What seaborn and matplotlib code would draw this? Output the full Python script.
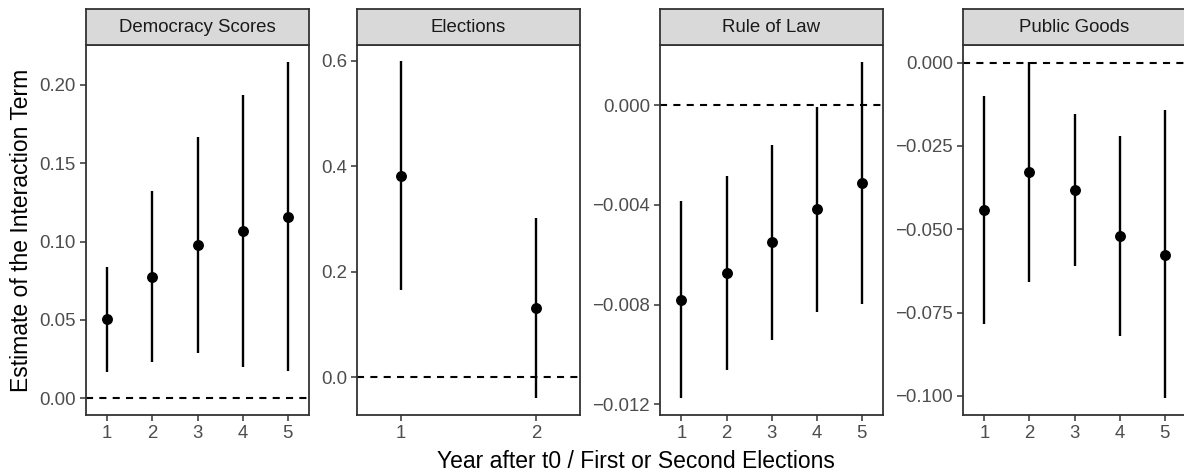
import matplotlib
matplotlib.use("Agg")
import matplotlib.pyplot as plt
import seaborn as sns
import pandas as pd
from matplotlib.ticker import FixedLocator, FuncFormatter

sns.set_theme(style="white")
plt.rcParams['font.family'] = ['Liberation Sans', 'DejaVu Sans']

# ---- data ----
panels = ["Democracy Scores", "Elections", "Rule of Law", "Public Goods"]

demo_x = [1, 2, 3, 4, 5]
demo_est = [0.0504, 0.0774, 0.0977, 0.1068, 0.1160]
demo_lo = [0.0170, 0.0230, 0.0287, 0.0198, 0.0174]
demo_hi = [0.0840, 0.1320, 0.1670, 0.1936, 0.2149]

elec_x = [1, 2]
elec_est = [0.382, 0.131]
elec_lo = [0.1656, -0.040]
elec_hi = [0.599, 0.3016]

rol_x = [1, 2, 3, 4, 5]
rol_est = [-0.00780, -0.00672, -0.00550, -0.00417, -0.00311]
rol_lo = [-0.01176, -0.01062, -0.00942, -0.00831, -0.00797]
rol_hi = [-0.00383, -0.00283, -0.00159, -0.00006, 0.00175]

pg_x = [1, 2, 3, 4, 5]
pg_est = [-0.0442, -0.0328, -0.0382, -0.0519, -0.0576]
pg_lo = [-0.0785, -0.0657, -0.0610, -0.0820, -0.1007]
pg_hi = [-0.0099, 0.0002, -0.0154, -0.0219, -0.0142]

y_ticks = [
    [0.00, 0.05, 0.10, 0.15, 0.20],
    [0.0, 0.2, 0.4, 0.6],
    [-0.012, -0.008, -0.004, 0.000],
    [-0.100, -0.075, -0.050, -0.025, 0.000],
]
y_decimals = [2, 1, 3, 3]
y_limits = [(-0.0107, 0.2255), (-0.0715, 0.630), (-0.01243, 0.00242), (-0.1057, 0.0053)]
x_limits = [(0.53, 5.47), (0.675, 2.325), (0.525, 5.47), (0.528, 5.47)]

series = [
    (demo_x, demo_est, demo_lo, demo_hi),
    (elec_x, elec_est, elec_lo, elec_hi),
    (rol_x, rol_est, rol_lo, rol_hi),
    (pg_x, pg_est, pg_lo, pg_hi),
]

W, H = 1184, 476
fig = plt.figure(figsize=(W / 100, H / 100), dpi=100)

panel_x = [(86, 309), (357, 580), (660, 883), (963, 1186)]
panel_top, panel_bot = 45, 415
strip_top = 9

tick_col = "#4D4D4D"
for i, (name, (xs, est, lo, hi)) in enumerate(zip(panels, series)):
    x0, x1 = panel_x[i]
    ax = fig.add_axes([x0 / W, 1 - panel_bot / H, (x1 - x0) / W, (panel_bot - panel_top) / H])
    sax = fig.add_axes([x0 / W, 1 - panel_top / H, (x1 - x0) / W, (panel_top - strip_top) / H])

    df = pd.DataFrame({"x": xs, "est": est, "lo": lo, "hi": hi})
    ax.axhline(0, color="black", lw=1.5, linestyle=(0, (3.4, 3.0)), zorder=1)
    ax.vlines(df["x"], df["lo"], df["hi"], color="black", lw=1.7, zorder=2)
    sns.scatterplot(data=df, x="x", y="est", ax=ax, color="black", s=62,
                    edgecolor="black", linewidth=0, zorder=3, legend=False)

    ax.set_xlim(*x_limits[i])
    ax.set_ylim(*y_limits[i])
    ax.xaxis.set_major_locator(FixedLocator(xs))
    ax.xaxis.set_major_formatter(FuncFormatter(lambda v, p: f"{int(round(v))}"))
    ax.yaxis.set_major_locator(FixedLocator(y_ticks[i]))
    d = y_decimals[i]
    ax.yaxis.set_major_formatter(FuncFormatter(
        lambda v, p, d=d: (f"{v:.{d}f}" if abs(v) > 1e-12 else f"{0:.{d}f}").replace("-", "\u2212")))
    ax.set_xlabel("")
    ax.set_ylabel("")
    ax.set_facecolor("white")
    for s in ax.spines.values():
        s.set_color("#333333")
        s.set_linewidth(1.3)
        s.set_visible(True)
    ax.tick_params(axis="both", which="both", length=4.2, width=1.1, color="#333333",
                   labelcolor=tick_col, labelsize=13.4, pad=3, direction="out",
                   bottom=True, left=True)
    ax.grid(False)

    sax.set_facecolor("#D9D9D9")
    sax.set_xticks([])
    sax.set_yticks([])
    for s in sax.spines.values():
        s.set_color("#333333")
        s.set_linewidth(1.3)
    sax.text(0.5, 0.5, name, transform=sax.transAxes, ha="center", va="center",
             fontsize=13.4, color="#1A1A1A")

fig.text(22 / W, 1 - 230 / H, "Estimate of the Interaction Term", rotation=90,
         ha="center", va="center", fontsize=16.5, color="black")
fig.text(636 / W, 1 - 461 / H, "Year after t0 / First or Second Elections",
         ha="center", va="center", fontsize=16.5, color="black")

fig.savefig("out.png", dpi=100)
